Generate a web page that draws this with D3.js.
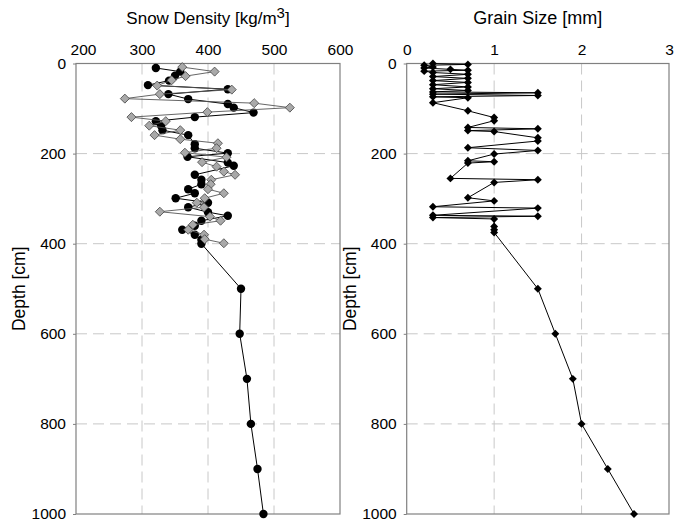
<!DOCTYPE html>
<html lang="en">
<head>
<meta charset="UTF-8">
<title>Snow profile</title>
<script src="https://cdn.jsdelivr.net/npm/d3@7"></script>
<style>
    body, html {margin: 0; padding: 0; background: #fff;}
    text {font-family: "Liberation Sans", Arial, sans-serif; fill: #000;}
</style>
</head>
<body>
<div id="chart"></div>
<script>
// density, black circles
const circleDepth = [10, 18, 27, 38, 48, 57, 68, 79, 90, 98, 109, 119, 128, 138, 148, 159, 179, 188, 199, 207, 220, 227, 247, 258, 268, 279, 288, 299, 309, 319, 330, 338, 349, 360, 369, 380, 391, 400, 500, 600, 700, 800, 900, 1000];
const circleDensity = [321, 358, 350, 341, 309, 430, 340, 370, 430, 439, 469, 380, 321, 329, 331, 370, 380, 380, 430, 369, 430, 439, 380, 390, 390, 370, 380, 351, 400, 370, 400, 430, 390, 380, 361, 380, 390, 390, 450, 448, 459, 465, 475, 484];

// density, grey diamonds
const diamondDepth = [8, 18, 28, 37, 49, 58, 68, 78, 88, 98, 108, 119, 128, 138, 148, 159, 168, 177, 188, 198, 208, 219, 229, 240, 247, 258, 268, 279, 288, 299, 309, 319, 329, 340, 349, 358, 369, 380, 390, 399];
const diamondDensity = [361, 410, 366, 345, 323, 436, 327, 274, 470, 524, 399, 284, 336, 311, 358, 319, 358, 415, 413, 365, 428, 391, 413, 424, 441, 405, 404, 400, 424, 395, 383, 394, 327, 403, 419, 377, 370, 394, 395, 424];

// grain size
const grainDepth = [0, 2, 4, 8, 10, 13, 15, 17, 20, 24, 29, 33, 38, 42, 47, 52, 56, 60, 63, 65, 68, 71, 74, 76, 87, 105, 120, 127, 142, 145, 149, 151, 165, 172, 187, 193, 201, 216, 218, 221, 255, 258, 264, 298, 305, 318, 321, 337, 339, 342, 345, 362, 369, 375, 500, 600, 700, 800, 900, 1000];
const grainSize = [0.3, 0.7, 0.2, 0.3, 0.2, 0.5, 0.7, 0.2, 0.3, 0.7, 0.3, 0.7, 0.3, 0.7, 0.3, 0.7, 0.3, 0.7, 0.3, 1.5, 0.3, 1.5, 0.3, 0.7, 0.3, 0.7, 1.0, 1.0, 0.7, 1.5, 0.7, 1.0, 1.5, 1.5, 0.7, 1.5, 1.0, 0.7, 1.0, 0.7, 0.5, 1.5, 1.0, 0.7, 1.0, 0.3, 1.5, 0.3, 1.5, 0.3, 1.0, 1.0, 1.0, 1.0, 1.5, 1.7, 1.9, 2.0, 2.3, 2.6];

const depthTicks = [0, 200, 400, 600, 800, 1000];
const densityTicks = [200, 300, 400, 500, 600];
const grainTicks = [0, 1, 2, 3];

const width = 679, height = 522;
const yTop = 63.5, yBottom = 514;
const fontFam = "Liberation Sans, Arial, sans-serif";

const svg = d3.select("#chart").append("svg")
    .attr("width", width)
    .attr("height", height);

const y = d3.scaleLinear().domain([0, 1000]).range([yTop, yBottom]);
const xL = d3.scaleLinear().domain([200, 600]).range([76, 340]);
const xR = d3.scaleLinear().domain([0, 3]).range([406.7, 669]);

function panel(x, xticks) {
    const g = svg.append("g");
    const [x0, x1] = x.range();

    // dashed grid
    g.selectAll(".vgrid").data(xticks.slice(1, -1)).enter().append("line")
        .attr("x1", d => x(d)).attr("x2", d => x(d))
        .attr("y1", yTop).attr("y2", yBottom)
        .attr("stroke", "#c8c8c8").attr("stroke-dasharray", "11,6");
    g.selectAll(".hgrid").data(depthTicks.slice(1, -1)).enter().append("line")
        .attr("x1", x0).attr("x2", x1)
        .attr("y1", d => y(d)).attr("y2", d => y(d))
        .attr("stroke", "#c8c8c8").attr("stroke-dasharray", "11,6");

    // frame
    g.append("rect")
        .attr("x", x0).attr("y", yTop)
        .attr("width", x1 - x0).attr("height", yBottom - yTop)
        .attr("fill", "none").attr("stroke", "#808080").attr("stroke-width", 1.2);

    // top axis
    const xa = g.append("g").attr("transform", `translate(0,${yTop})`)
        .call(d3.axisTop(x).tickValues(xticks).tickFormat(d3.format("d")).tickSize(0).tickPadding(9));
    xa.select(".domain").remove();
    xa.selectAll("text").attr("font-size", 15.5).attr("font-family", fontFam);

    // left axis
    const ya = g.append("g").attr("transform", `translate(${x0},0)`)
        .call(d3.axisLeft(y).tickValues(depthTicks).tickFormat(d3.format("d")).tickSize(3).tickPadding(7));
    ya.select(".domain").remove();
    ya.selectAll("line").attr("stroke", "#808080");
    ya.selectAll("text").attr("font-size", 15.5).attr("font-family", fontFam);

    g.append("text")
        .attr("transform", `translate(${x0 - 51},${(yTop + yBottom) / 2}) rotate(-90)`)
        .attr("text-anchor", "middle")
        .attr("font-size", 17.5)
        .text("Depth [cm]");

    const t = g.append("text")
        .attr("x", (x0 + x1) / 2).attr("y", 24)
        .attr("text-anchor", "middle")
        .attr("font-size", 17.5);
    return {g: g, xa: xa, title: t};
}

const left = panel(xL, densityTicks);
left.xa.selectAll("text").filter(d => d === 200).attr("dx", 7);
left.title.attr("font-size", 17);
left.title.append("tspan").text("Snow Density [kg/m");
left.title.append("tspan").attr("dy", -6).attr("font-size", 15).text("3");
left.title.append("tspan").attr("dy", 6).text("]");

const right = panel(xR, grainTicks);
right.title.attr("font-size", 18).text("Grain Size [mm]");

const circles = circleDepth.map((d, i) => [circleDensity[i], d]);
const diamonds = diamondDepth.map((d, i) => [diamondDensity[i], d]);
const grains = grainDepth.map((d, i) => [grainSize[i], d]);

const lineL = d3.line().x(d => xL(d[0])).y(d => y(d[1]));
const lineR = d3.line().x(d => xR(d[0])).y(d => y(d[1]));
const diamondSym = d3.symbol().type(d3.symbolDiamond2);

// black circle series
left.g.append("path").datum(circles)
    .attr("d", lineL).attr("fill", "none").attr("stroke", "#000").attr("stroke-width", 1);
left.g.selectAll(".c").data(circles).enter().append("circle")
    .attr("cx", d => xL(d[0])).attr("cy", d => y(d[1])).attr("r", 4.2)
    .attr("fill", "#000");

// grey diamond series
left.g.append("path").datum(diamonds)
    .attr("d", lineL).attr("fill", "none").attr("stroke", "#555").attr("stroke-width", 0.9);
left.g.selectAll(".dm").data(diamonds).enter().append("path")
    .attr("d", diamondSym.size(52))
    .attr("transform", d => `translate(${xL(d[0])},${y(d[1])})`)
    .attr("fill", "#a9a9a9").attr("stroke", "#444").attr("stroke-width", 0.8);

// grain size
right.g.append("path").datum(grains)
    .attr("d", lineR).attr("fill", "none").attr("stroke", "#000").attr("stroke-width", 1);
right.g.selectAll(".gm").data(grains).enter().append("path")
    .attr("d", diamondSym.size(40))
    .attr("transform", d => `translate(${xR(d[0])},${y(d[1])})`)
    .attr("fill", "#000");
</script>
</body>
</html>
